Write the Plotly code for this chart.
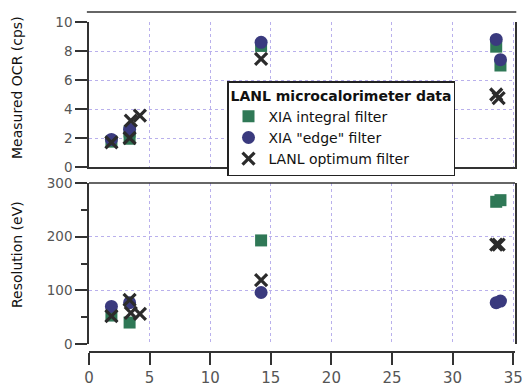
import plotly.graph_objects as go

# ---- data ----
# Top panel: Measured OCR (cps)
ocr_int_x = [1.85, 3.35, 3.35, 14.2, 33.6, 33.95]
ocr_int_y = [1.75, 1.95, 2.45, 8.35, 8.3, 7.0]
ocr_edge_x = [1.85, 3.35, 14.2, 33.6, 33.95]
ocr_edge_y = [1.9, 2.6, 8.6, 8.8, 7.4]
ocr_opt_x = [1.85, 3.35, 3.45, 4.2, 14.2, 33.6, 33.8]
ocr_opt_y = [1.7, 2.0, 3.2, 3.55, 7.45, 5.0, 4.75]
# Bottom panel: Resolution (eV)
res_int_x = [1.85, 3.35, 14.2, 33.6, 33.95]
res_int_y = [53, 40, 193, 265, 268]
res_edge_x = [1.85, 3.35, 14.2, 33.6, 33.95]
res_edge_y = [70, 77, 96, 77, 80]
res_opt_x = [1.85, 3.35, 3.45, 4.2, 14.2, 33.6, 33.8]
res_opt_y = [52, 82, 58, 56, 119, 185, 185]

series_names = ["XIA integral filter", 'XIA "edge" filter', "LANL optimum filter"]
legend_title = "LANL microcalorimeter data"
x_ticks = [0, 5, 10, 15, 20, 25, 30, 35]

GREEN = "#2f7856"
NAVY = "#3a3a7e"
XCOL = "#2b2b2b"
GRID = "#b9b0ec"
LINE = "#333333"
FONT = "DejaVu Sans"

fig = go.Figure()

def add(x, y, name, kind, xa, ya, show):
    if kind == "sq":
        m = dict(symbol="square", size=12, color=GREEN)
    elif kind == "ci":
        m = dict(symbol="circle", size=13, color=NAVY)
    else:
        m = dict(symbol="x-thin", size=12, color=XCOL, line=dict(width=3.2, color=XCOL))
    fig.add_trace(go.Scatter(x=x, y=y, mode="markers", name=name, marker=m,
                             xaxis=xa, yaxis=ya, showlegend=show, legendgroup=name))

add(ocr_int_x, ocr_int_y, series_names[0], "sq", "x", "y", True)
add(ocr_edge_x, ocr_edge_y, series_names[1], "ci", "x", "y", True)
add(ocr_opt_x, ocr_opt_y, series_names[2], "x", "x", "y", True)
add(res_int_x, res_int_y, series_names[0], "sq", "x2", "y2", False)
add(res_edge_x, res_edge_y, series_names[1], "ci", "x2", "y2", False)
add(res_opt_x, res_opt_y, series_names[2], "x", "x2", "y2", False)

H_TOP, H_BOT = 22, 40  # margins
plot_h = 392 - H_TOP - H_BOT  # 330
def py(px):  # pixel y -> paper fraction
    return (392 - H_BOT - px) / plot_h

tickfont = dict(family=FONT, size=13.5, color="#555555")
XR = [0, 35.15]

fig.update_layout(
    width=526, height=392,
    margin=dict(l=89, r=11, t=H_TOP, b=H_BOT, autoexpand=False),
    paper_bgcolor="white", plot_bgcolor="white",
    font=dict(family=FONT, color="#111111"),
    xaxis=dict(domain=[0, 1], range=XR, anchor="y", tickvals=x_ticks,
               showticklabels=False, ticks="", showgrid=True, gridcolor=GRID,
               griddash="dot", gridwidth=1, showline=True, linecolor=LINE,
               linewidth=1.5, zeroline=False),
    yaxis=dict(domain=[py(167), 1], range=[0, 10], dtick=2, tickfont=tickfont,
               ticks="outside", ticklen=12, tickcolor=LINE, tickwidth=1.5,
               showline=True, mirror=True, linecolor=LINE, linewidth=1.5,
               showgrid=True, gridcolor=GRID, griddash="dot", zeroline=False),
    xaxis2=dict(domain=[0, 1], range=XR, anchor="free", position=0,
                tickvals=x_ticks, tickfont=dict(family=FONT, size=15, color="#555555"),
                ticks="outside", ticklen=12,
                tickcolor=LINE, tickwidth=1.5, showline=True, linecolor=LINE,
                linewidth=1.5, showgrid=True, gridcolor=GRID, griddash="dot",
                zeroline=False),
    yaxis2=dict(domain=[py(344), py(183)], range=[0, 300], dtick=100,
                tickfont=tickfont, ticks="outside", ticklen=12, tickcolor=LINE,
                tickwidth=1.5, showline=True, mirror=True, linecolor=LINE,
                linewidth=1.5, showgrid=True, gridcolor=GRID, griddash="dot",
                zeroline=False,
                minor=dict(dtick=50, ticks="outside", ticklen=6, tickcolor=LINE,
                           tickwidth=1.5, showgrid=False)),
    legend=dict(x=(227 - 89) / 426, y=py(81), xanchor="left", yanchor="top",
                bgcolor="white", bordercolor="#222222", borderwidth=1.5,
                title=dict(text="<b>" + legend_title + "</b>",
                           font=dict(family=FONT, size=14, color="#111111")),
                font=dict(family=FONT, size=14, color="#111111"),
                itemwidth=30, tracegroupgap=0),
    showlegend=True,
)

# frame lines
fig.add_shape(type="line", xref="paper", yref="paper", x0=-0.005, x1=1.003,
              y0=py(12), y1=py(12), line=dict(color=LINE, width=1.5))
fig.add_shape(type="line", xref="x2 domain", yref="y2 domain", x0=0, x1=1,
              y0=1, y1=1, line=dict(color=LINE, width=1.5))

# axis titles
fig.add_annotation(text="Measured OCR (cps)", xref="paper", yref="paper",
                   x=(17 - 89) / 426, y=py(88), xanchor="center", yanchor="middle",
                   textangle=-90, showarrow=False,
                   font=dict(family=FONT, size=14, color="#111111"))
fig.add_annotation(text="Resolution (eV)", xref="paper", yref="paper",
                   x=(17 - 89) / 426, y=py(255), xanchor="center", yanchor="middle",
                   textangle=-90, showarrow=False,
                   font=dict(family=FONT, size=14, color="#111111"))

fig.write_html("out.html", config={"displayModeBar": False},
               post_script="document.body.style.margin='0px';document.body.style.padding='0px';")
